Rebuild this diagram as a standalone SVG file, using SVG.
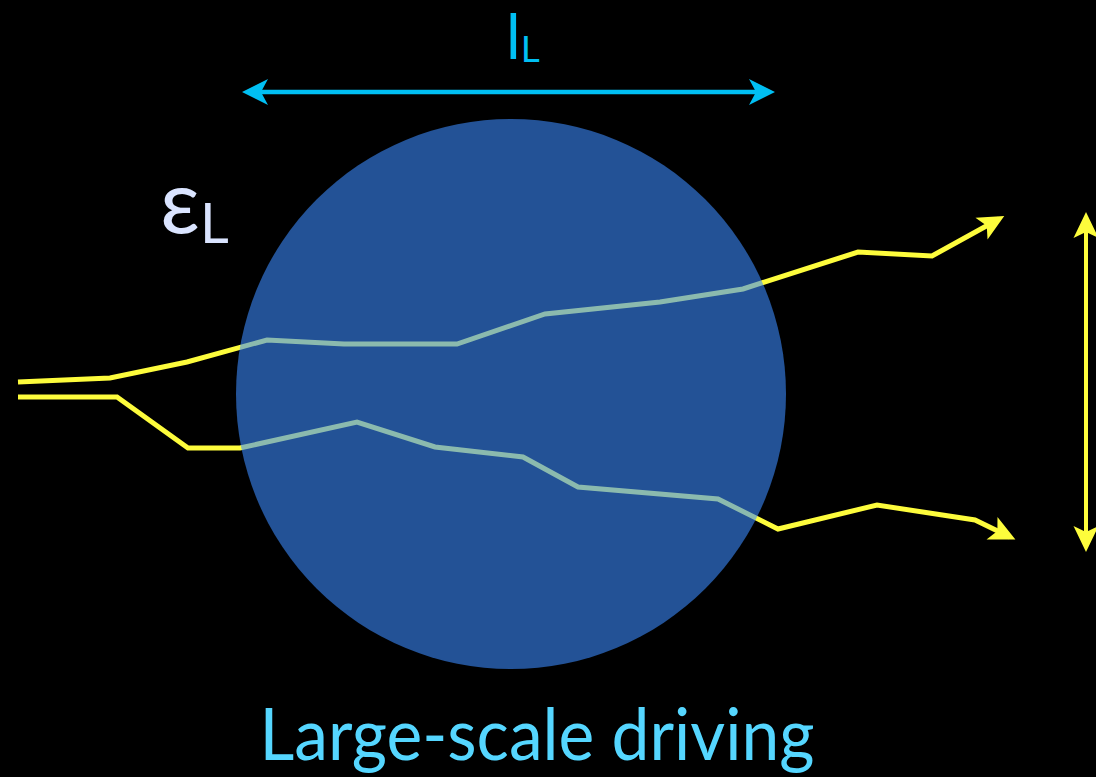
<svg xmlns="http://www.w3.org/2000/svg" width="1096" height="777" viewBox="0 0 1096 777">
<style>
.ray{fill:none;stroke:#fdfc3c;stroke-width:5;stroke-linejoin:miter}
.t{font-family:Lato,"Open Sans","Liberation Sans",sans-serif}
</style>
<defs>
<marker id="ay" markerUnits="userSpaceOnUse" markerWidth="30" markerHeight="30" refX="20" refY="12.5" orient="auto-start-reverse" overflow="visible">
<path d="M26,12.5 L0,0 L6,12.5 L0,25 Z" fill="#fdfc3c"/>
</marker>
<marker id="ac" markerUnits="userSpaceOnUse" markerWidth="30" markerHeight="30" refX="19" refY="13" orient="auto-start-reverse" overflow="visible">
<path d="M26,13 L0,0 L7,13 L0,26 Z" fill="#00bff3"/>
</marker>
</defs>
<rect width="1096" height="777" fill="#000"/>
<g id="connectors">
<polyline class="ray" points="18,382 110,378 187,362 267,340 344,344 457,344 545,314 660,302 743,289 858,252 932,256 999,219" marker-end="url(#ay)"/>
<polyline class="ray" points="18,397 117,397 188,448 240,448 357,422 435,447 523,457 578,487 718,499 778,529 877,505 975,520 1010,537" marker-end="url(#ay)"/>
<line x1="249" y1="92" x2="768" y2="92" stroke="#00bff3" stroke-width="4.5" marker-start="url(#ac)" marker-end="url(#ac)"/>
<line x1="1086" y1="218" x2="1086" y2="546" stroke="#fdfc3c" stroke-width="4" marker-start="url(#ay)" marker-end="url(#ay)"/>
</g>
<g id="circle">
<circle cx="511" cy="394" r="275" fill="#3b8bff" fill-opacity="0.59"/>
</g>
<g id="lL">
<text class="t" x="506" y="59" font-size="62" fill="#00bff3">l<tspan font-size="37" dy="3">L</tspan></text>
</g>
<g id="epsL">
<text class="t" x="160" y="233" font-size="88" fill="#dae4ff">ε<tspan font-size="56" dy="10">L</tspan></text>
</g>
<g id="label">
<text class="t" x="537" y="760" font-size="72" fill="#55d6ff" text-anchor="middle" textLength="555" lengthAdjust="spacingAndGlyphs">Large-scale driving</text>
</g>
</svg>
